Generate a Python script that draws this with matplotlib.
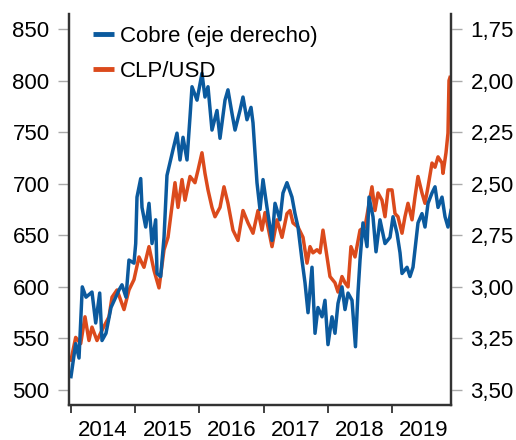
import matplotlib
matplotlib.use("Agg")
import matplotlib.pyplot as plt
from matplotlib.ticker import FixedLocator, NullFormatter, FixedFormatter
from matplotlib.lines import Line2D

plt.rcParams['font.family'] = ['Liberation Sans', 'DejaVu Sans']

# Copper price (USD/lb, right axis, inverted)
cobre_t = [2014.0, 2014.073, 2014.125, 2014.176, 2014.234, 2014.327, 2014.385, 2014.447, 2014.483,
           2014.545, 2014.623, 2014.748, 2014.794, 2014.857, 2014.903, 2014.981, 2015.008, 2015.028,
           2015.086, 2015.106, 2015.164, 2015.215, 2015.262, 2015.319, 2015.340, 2015.397, 2015.449,
           2015.495, 2015.589, 2015.651, 2015.698, 2015.745, 2015.807, 2015.854, 2015.885, 2015.963,
           2016.040, 2016.087, 2016.134, 2016.196, 2016.274, 2016.321, 2016.399, 2016.445, 2016.508,
           2016.555, 2016.632, 2016.679, 2016.741, 2016.804, 2016.835, 2016.897, 2016.944, 2016.991,
           2017.053, 2017.131, 2017.178, 2017.255, 2017.302, 2017.364, 2017.442, 2017.489, 2017.536,
           2017.598, 2017.645, 2017.692, 2017.754, 2017.801, 2017.847, 2017.910, 2017.956, 2018.003,
           2018.065, 2018.112, 2018.159, 2018.221, 2018.268, 2018.315, 2018.377, 2018.431, 2018.470,
           2018.502, 2018.548, 2018.611, 2018.642, 2018.704, 2018.751, 2018.813, 2018.891, 2018.969,
           2019.016, 2019.078, 2019.125, 2019.156, 2019.234, 2019.280, 2019.327, 2019.358, 2019.405,
           2019.467, 2019.514, 2019.561, 2019.623, 2019.670, 2019.717, 2019.779, 2019.826, 2019.872,
           2019.919]
cobre = [3.435, 3.275, 3.345, 3.00, 3.05, 3.025, 3.175, 3.03, 3.26,
         3.225, 3.10, 3.015, 2.99, 3.05, 2.87, 2.885, 2.79, 2.565,
         2.475, 2.615, 2.71, 2.595, 2.79, 2.675, 2.935, 2.95, 2.76,
         2.46, 2.335, 2.255, 2.385, 2.275, 2.385, 2.175, 2.03, 2.095,
         1.965, 2.08, 2.03, 2.24, 2.145, 2.28, 2.095, 2.045, 2.16,
         2.24, 2.145, 2.08, 2.19, 2.13, 2.205, 2.495, 2.625, 2.48,
         2.615, 2.775, 2.595, 2.675, 2.545, 2.495, 2.565, 2.645, 2.71,
         2.87, 2.98, 3.125, 2.905, 3.225, 3.10, 3.145, 3.065, 3.28,
         3.145, 3.225, 3.08, 3.00, 3.11, 3.03, 3.065, 3.29, 3.03,
         2.87, 2.69, 2.805, 2.565, 2.66, 2.83, 2.675, 2.79, 2.76,
         2.66, 2.74, 2.835, 2.935, 2.905, 2.95, 2.905, 2.82, 2.69,
         2.645, 2.71, 2.595, 2.545, 2.515, 2.615, 2.565, 2.66, 2.71,
         2.63]

# CLP/USD (left axis)
clp_t = [2014.0, 2014.073, 2014.151, 2014.218, 2014.280, 2014.327, 2014.405, 2014.483, 2014.592,
         2014.639, 2014.717, 2014.826, 2014.903, 2014.981, 2015.059, 2015.137, 2015.215, 2015.293,
         2015.371, 2015.449, 2015.511, 2015.620, 2015.667, 2015.729, 2015.776, 2015.854, 2015.931,
         2015.978, 2016.040, 2016.087, 2016.134, 2016.196, 2016.243, 2016.321, 2016.383, 2016.445,
         2016.523, 2016.601, 2016.679, 2016.757, 2016.835, 2016.913, 2016.975, 2017.022, 2017.069,
         2017.131, 2017.209, 2017.287, 2017.364, 2017.411, 2017.458, 2017.536, 2017.614, 2017.676,
         2017.723, 2017.769, 2017.832, 2017.879, 2017.925, 2017.988, 2018.034, 2018.112, 2018.159,
         2018.221, 2018.268, 2018.315, 2018.361, 2018.424, 2018.502, 2018.579, 2018.688, 2018.735,
         2018.782, 2018.844, 2018.891, 2018.938, 2019.000, 2019.047, 2019.093, 2019.156, 2019.202,
         2019.249, 2019.312, 2019.358, 2019.405, 2019.467, 2019.514, 2019.561, 2019.623, 2019.670,
         2019.717, 2019.779, 2019.794, 2019.841, 2019.872, 2019.888, 2019.903]
clp = [529, 551, 545, 571, 548, 561, 548, 558, 571,
       590, 597, 578, 597, 607, 629, 619, 639, 616,
       599, 636, 648, 701, 677, 704, 684, 707, 701,
       713, 730, 710, 694, 677, 668, 677, 697, 681,
       655, 645, 674, 662, 652, 674, 655, 672, 658,
       639, 665, 648, 671, 674, 662, 658, 648, 623,
       639, 633, 636, 633, 655, 629, 610, 604, 595,
       610, 604, 600, 639, 629, 655, 658, 697, 674,
       691, 684, 668, 694, 694, 671, 668, 652, 668,
       681, 665, 687, 707, 691, 681, 697, 720, 716,
       726, 720, 710, 730, 749, 800, 803]

year_ticks = [2014, 2015, 2016, 2017, 2018, 2019]
year_labels = ['2014', '2015', '2016', '2017', '2018', '2019']
left_ticks = [500, 550, 600, 650, 700, 750, 800, 850]
right_ticks = [1.75, 2.00, 2.25, 2.50, 2.75, 3.00, 3.25, 3.50]

BLUE = '#0B5A9E'
RED = '#DB4A1C'
SPINE = '#333333'

fig = plt.figure(figsize=(5.16, 4.40), dpi=100)
ax = fig.add_axes([69/516, 35/440, 382/516, 391/440])
ax2 = ax.twinx()

ax.plot(clp_t, clp, color=RED, lw=2.5, solid_joinstyle='round')
ax2.plot(cobre_t, cobre, color=BLUE, lw=2.5, solid_joinstyle='round')

ax.set_xlim(2013.969, 2019.919)
ax.set_ylim(485.5, 864.5)
ax2.set_ylim(3.5725, 1.6775)

ax.set_yticks(left_ticks)
ax.set_yticklabels([str(v) for v in left_ticks])
ax2.set_yticks(right_ticks)
ax2.set_yticklabels([f"{v:.2f}".replace('.', ',') for v in right_ticks])

ax.xaxis.set_major_locator(FixedLocator(year_ticks))
ax.xaxis.set_major_formatter(NullFormatter())
ax.xaxis.set_minor_locator(FixedLocator([y + 0.5 for y in year_ticks]))
ax.xaxis.set_minor_formatter(FixedFormatter(year_labels))
ax.tick_params(axis='x', which='major', direction='out', length=6, width=1.3, color=SPINE)
ax.tick_params(axis='x', which='minor', length=0, pad=11, labelsize=16)
ax.tick_params(axis='y', direction='out', length=8, width=1, color='#aaaaaa', pad=6, labelsize=16)
ax2.tick_params(axis='y', direction='out', length=8, width=1, color='#aaaaaa', pad=6, labelsize=16)

for a in (ax, ax2):
    a.spines['top'].set_visible(False)
    for s in ('left', 'right', 'bottom'):
        a.spines[s].set_color(SPINE)
        a.spines[s].set_linewidth(1.6)

handles = [Line2D([], [], color=BLUE, lw=3.5, solid_capstyle='butt'),
           Line2D([], [], color=RED, lw=3.5, solid_capstyle='butt')]
ax2.legend(handles, ['Cobre (eje derecho)', 'CLP/USD'], loc='upper left',
           bbox_to_anchor=(0.04, 0.992), frameon=False, fontsize=16,
           handlelength=0.95, handletextpad=0.25, labelspacing=0.62, borderaxespad=0.0)

fig.savefig('out.png', dpi=100)
